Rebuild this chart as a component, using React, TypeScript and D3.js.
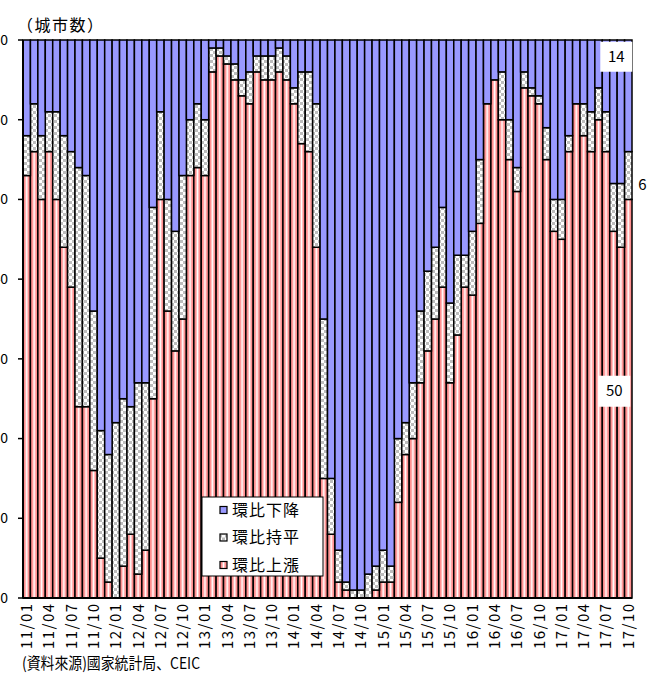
import React from 'react';
import * as d3 from 'd3';

const months: string[] = [
  '11/01','11/02','11/03','11/04','11/05','11/06','11/07','11/08','11/09','11/10','11/11','11/12',
  '12/01','12/02','12/03','12/04','12/05','12/06','12/07','12/08','12/09','12/10','12/11','12/12',
  '13/01','13/02','13/03','13/04','13/05','13/06','13/07','13/08','13/09','13/10','13/11','13/12',
  '14/01','14/02','14/03','14/04','14/05','14/06','14/07','14/08','14/09','14/10','14/11','14/12',
  '15/01','15/02','15/03','15/04','15/05','15/06','15/07','15/08','15/09','15/10','15/11','15/12',
  '16/01','16/02','16/03','16/04','16/05','16/06','16/07','16/08','16/09','16/10','16/11','16/12',
  '17/01','17/02','17/03','17/04','17/05','17/06','17/07','17/08','17/09','17/10'
];

// 環比上漲
const rise: number[] = [
  53,56,50,56,50,44,39,24,24,16,5,2,
  0,4,8,3,6,25,50,36,31,35,53,54,
  53,66,68,67,65,63,62,66,65,65,66,65,
  62,57,56,44,15,8,2,1,0,0,0,1,
  2,2,12,18,20,27,31,35,39,27,33,39,
  38,47,62,65,60,55,51,64,63,62,55,46,
  45,56,62,58,56,60,56,46,44,50
];
// 環比持平
const flat: number[] = [
  5,6,8,5,11,14,17,30,29,20,16,16,
  22,21,16,24,21,24,11,14,15,18,7,8,
  7,3,1,1,2,2,4,2,3,3,3,3,
  2,9,10,18,20,7,4,1,1,1,3,3,
  4,2,8,4,7,9,10,9,10,10,10,4,
  8,8,0,0,6,5,3,2,1,1,4,4,
  5,2,0,4,5,4,5,6,8,6
];
// 環比下降
const fall: number[] = [
  12,8,12,9,9,12,14,16,17,34,49,52,
  48,45,46,43,43,21,9,20,24,17,10,8,
  10,1,1,2,3,5,4,2,2,2,1,2,
  6,4,4,8,35,55,64,68,69,69,67,66,
  64,66,50,48,43,34,29,26,21,33,27,27,
  24,15,8,5,4,10,16,4,6,7,11,20,
  20,12,8,8,9,6,9,18,18,14
];

const yTicks: number[] = [0, 10, 20, 30, 40, 50, 60, 70];
const seriesKeys = ['rise', 'flat', 'fall'];
const legendLabels: string[] = ['環比下降', '環比持平', '環比上漲'];
const legendKeys = ['fall', 'flat', 'rise'];
const yTitle = '（城市数）';
const sourceText = '(資料來源)國家統計局、CEIC';

const W = 647, H = 676;
const FONT = "'Noto Sans CJK JP', 'Noto Sans', sans-serif";

const fills: Record<string, string> = {
  rise: 'url(#redStripe)',
  flat: 'url(#checker)',
  fall: '#9999ff',
};

export default function App() {
  const rows = months.map((m, i) => ({ m, rise: rise[i], flat: flat[i], fall: fall[i] }));
  const stack = d3.stack<any>().keys(seriesKeys);
  const layers = stack(rows);

  const x = d3.scaleBand<string>().domain(months).range([23, 632]).padding(0);
  const y = d3.scaleLinear().domain([0, 70]).range([598, 40]);
  const bw = x.bandwidth();

  const last = rows[rows.length - 1];
  const lastX = x(last.m)! + bw / 2;

  return (
    <div style={{ position: 'absolute', left: 0, top: 0 }}>
      <svg width={W} height={H} style={{ display: 'block', fontFamily: FONT }}>
        <defs>
          <linearGradient id="redStripe" x1="0" x2="1" y1="0" y2="0">
            <stop offset="0" stopColor="#ff9090" />
            <stop offset="0.26" stopColor="#ff9090" />
            <stop offset="0.38" stopColor="#ffc4c4" />
            <stop offset="0.5" stopColor="#ffffff" />
            <stop offset="0.62" stopColor="#ffc4c4" />
            <stop offset="0.74" stopColor="#ff9090" />
            <stop offset="1" stopColor="#ff9090" />
          </linearGradient>
          <pattern id="checker" patternUnits="userSpaceOnUse" width="6" height="6">
            <rect x="0" y="0" width="6" height="6" fill="#ffffff" />
            <rect x="0" y="0" width="3" height="3" fill="#bdbdbd" />
            <rect x="3" y="3" width="3" height="3" fill="#bdbdbd" />
          </pattern>
        </defs>

        {/* y-axis title */}
        <text x={17} y={31} fontSize={16} letterSpacing={1.5} fill="#000">{yTitle}</text>

        {/* bars */}
        {layers.map((layer) => (
          <g key={layer.key}>
            {layer.map((d, i) => {
              const h = y(d[0]) - y(d[1]);
              if (h <= 0) return null;
              return (
                <rect
                  key={i}
                  x={x(months[i])}
                  y={y(d[1])}
                  width={bw}
                  height={h}
                  fill={fills[layer.key]}
                  stroke="#000"
                  strokeWidth={1.5}
                />
              );
            })}
          </g>
        ))}

        {/* axes */}
        <line x1={23} x2={23} y1={y(70)} y2={y(0)} stroke="#000" strokeWidth={2} />
        <line x1={23} x2={632} y1={y(0)} y2={y(0)} stroke="#000" strokeWidth={2} />
        {yTicks.map((t) => (
          <g key={t}>
            <line x1={18} x2={23} y1={y(t)} y2={y(t)} stroke="#000" strokeWidth={1.5} />
            <text x={8} y={y(t)} dy="0.35em" textAnchor="end" fontSize={14} fill="#000">{t}</text>
          </g>
        ))}

        {/* x labels */}
        {months.map((m, i) =>
          i % 3 === 0 ? (
            <text
              key={m}
              transform={`translate(${x(m)! + bw / 2},${604}) rotate(-90)`}
              textAnchor="end"
              dy="0.36em"
              fontSize={15}
              textLength={45}
              lengthAdjust="spacing"
              fill="#000"
            >
              {m}
            </text>
          ) : null
        )}

        {/* value labels for last bar */}
        <rect x={lastX - 28} y={y(70 - last.fall * 0.15) - 15} width={32} height={30} fill="#fff" />
        <text x={lastX - 12} y={y(70 - last.fall * 0.15)} dy="0.35em" textAnchor="middle" fontSize={15}>{last.fall}</text>
        <text x={lastX + 10} y={y(last.rise + last.flat * 0.3)} dy="0.35em" textAnchor="start" fontSize={15}>{last.flat}</text>
        <rect x={lastX - 30} y={y(last.rise * 0.52) - 15} width={32} height={31} fill="#fff" />
        <text x={lastX - 14} y={y(last.rise * 0.52)} dy="0.35em" textAnchor="middle" fontSize={15}>{last.rise}</text>

        {/* legend */}
        <g>
          <rect x={202} y={497} width={121} height={79} fill="#fff" stroke="#000" strokeWidth={1} />
          {legendLabels.map((lab, i) => (
            <g key={lab} transform={`translate(0,${510 + i * 27.5})`}>
              <rect x={220} y={-3.5} width={7} height={7} fill={fills[legendKeys[i]]} stroke="#000" strokeWidth={1.2} />
              <text x={232} y={0} dy="0.36em" fontSize={16} letterSpacing={1} fill="#000">{lab}</text>
            </g>
          ))}
        </g>

        {/* source */}
        <text x={22} y={669} fontSize={16} textLength={178} lengthAdjust="spacingAndGlyphs" fill="#000">{sourceText}</text>
      </svg>
    </div>
  );
}
